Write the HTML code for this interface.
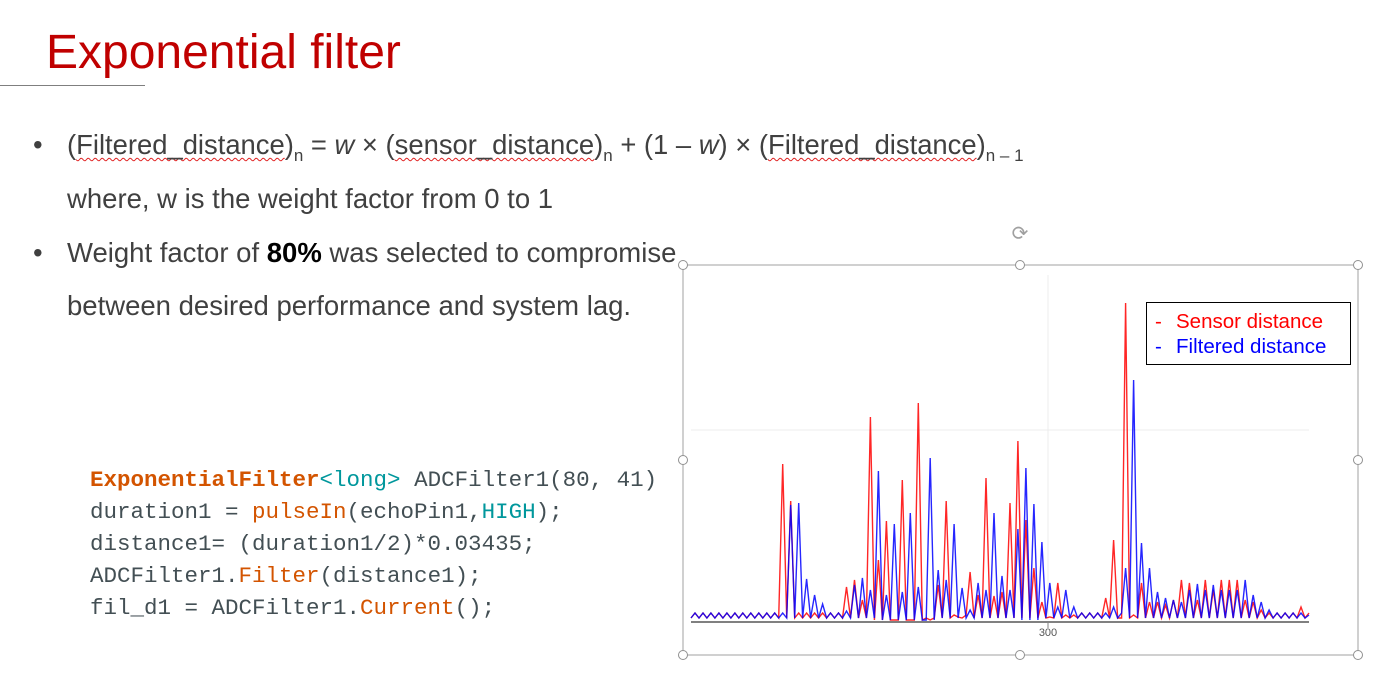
<!DOCTYPE html>
<html><head><meta charset="utf-8">
<style>
body{margin:0;width:1387px;height:699px;background:#fff;position:relative;overflow:hidden;font-family:"Liberation Sans",sans-serif}
.abs{position:absolute;white-space:nowrap}
.t{color:#404040;font-size:27.5px}
.w{text-decoration:underline wavy #e02020;text-decoration-thickness:1px;text-underline-offset:3px}
sub{font-size:17px;vertical-align:-7px}
.code{font-family:"Liberation Mono",monospace;font-size:22.5px;color:#434f54}
.o{color:#d35400}.tl{color:#00979c}
</style></head><body>
<div class="abs" style="left:46px;top:25px;font-size:48px;color:#c00000">Exponential filter</div>
<div class="abs" style="left:0;top:85px;width:145px;height:1px;background:#7f7f7f"></div>
<div class="abs t" style="left:33px;top:129px">•</div>
<div class="abs t" style="left:67px;top:129px;font-size:27.4px">(<span class="w">Filtered_distance</span>)<sub>n</sub> = <i>w</i> × (<span class="w">sensor_distance</span>)<sub>n</sub> + (1 – <i>w</i>) × (<span class="w">Filtered_distance</span>)<sub>n – 1</sub></div>
<div class="abs t" style="left:67px;top:183px">where, w is the weight factor from 0 to 1</div>
<div class="abs t" style="left:33px;top:237px">•</div>
<div class="abs t" style="left:67px;top:237px">Weight factor of <b style="color:#000">80%</b> was selected to compromise</div>
<div class="abs t" style="left:67px;top:290px">between desired performance and system lag.</div>
<div class="abs code" style="left:90px;top:464px;line-height:32px">
<div><span class="o"><b>ExponentialFilter</b></span><span class="tl">&lt;long&gt;</span> ADCFilter1(80, 41)</div>
<div>duration1 = <span class="o">pulseIn</span>(echoPin1,<span class="tl">HIGH</span>);</div>
<div>distance1= (duration1/2)*0.03435;</div>
<div>ADCFilter1.<span class="o">Filter</span>(distance1);</div>
<div>fil_d1 = ADCFilter1.<span class="o">Current</span>();</div>
</div>
<svg class="abs" id="chart" style="left:0;top:0" width="1387" height="699">
<g id="frame" stroke="#a0a0a0" fill="none"><rect x="683" y="265" width="675" height="390" stroke-width="1"/></g>
<text x="1020" y="240" font-size="20" fill="#a0a0a0" text-anchor="middle">⟳</text>
<line x1="1048" y1="275" x2="1048" y2="620" stroke="#ececec"/>
<line x1="691" y1="430" x2="1309" y2="430" stroke="#ececec"/>
<g id="series"></g>
<line x1="691" y1="622" x2="1309" y2="622" stroke="#808080" stroke-width="2"/>
<line x1="1048" y1="622" x2="1048" y2="628" stroke="#808080"/>
<text x="1048" y="636" font-size="11" fill="#555" text-anchor="middle">300</text>
<g>
<rect x="1146.5" y="302.5" width="204" height="62" fill="#fff" stroke="#000"/>
<text x="1155" y="328" font-size="20.5" fill="#ff0000">-</text>
<text x="1176" y="328" font-size="20.5" fill="#ff0000">Sensor distance</text>
<text x="1155" y="353" font-size="20.5" fill="#0000ff">-</text>
<text x="1176" y="353" font-size="20.5" fill="#0000ff">Filtered distance</text>
</g>
<g id="handles" fill="#fff" stroke="#909090"></g>
</svg>
<script>
const sensor=[2,7,2,7,2,7,2,7,2,7,2,7,2,7,2,7,2,7,2,7,2,7,2,156,2,119,2,7,2,7,2,7,2,7,2,7,2,7,2,33,2,40,2,20,2,203,0,60,0,99,0,0,0,140,0,0,0,217,0,2,0,2,35,2,119,2,5,3,2,5,48,2,25,2,142,2,24,2,28,2,117,2,179,2,100,2,52,2,18,2,3,2,37,2,5,2,5,2,7,2,7,2,7,2,22,2,80,2,2,317,2,5,2,37,2,18,2,18,2,15,2,20,2,40,2,37,2,20,2,40,2,30,2,40,2,40,2,40,2,20,2,18,2,10,2,7,2,7,2,7,2,7,2,13,2,7];
const filtered=[2,7,2,7,2,7,2,7,2,7,2,7,2,7,2,7,2,7,2,7,2,7,2,7,2,115,2,117,2,41,2,25,2,16,2,7,2,7,2,9,2,35,2,42,2,30,2,149,0,25,0,96,0,28,0,107,0,33,0,0,162,0,50,2,40,2,96,2,32,2,10,2,37,2,30,2,107,2,44,2,30,2,91,0,152,0,116,0,78,2,37,2,13,2,30,2,13,2,7,2,7,2,7,2,7,2,13,2,7,52,2,240,2,77,2,52,2,28,2,22,2,20,2,18,2,30,2,36,2,30,2,35,2,30,2,30,2,30,2,40,2,25,2,18,2,10,2,7,2,7,2,7,2,7,2,5];
const ns='http://www.w3.org/2000/svg';
const x=i=>691+i*(1309-691)/155;
const y=v=>620-v;
const g=document.getElementById('series');
function draw(arr,color,name){
  const p=document.createElementNS(ns,'polyline');
  p.setAttribute('points',arr.map((v,i)=>x(i).toFixed(1)+','+y(v).toFixed(1)).join(' '));
  p.setAttribute('fill','none');p.setAttribute('stroke',color);p.setAttribute('stroke-width','1.4');
  p.setAttribute('stroke-opacity','0.85');
  
  
  g.appendChild(p);
}
draw(sensor,'#ff0000','sensor-distance-line');
draw(filtered,'#0000ff','filtered-distance-line');
const hs=document.getElementById('handles');
[[683,265],[1020,265],[1358,265],[683,460],[1358,460],[683,655],[1020,655],[1358,655]].forEach(c=>{
  const ci=document.createElementNS(ns,'circle');
  ci.setAttribute('cx',c[0]);ci.setAttribute('cy',c[1]);ci.setAttribute('r','4.5');
  
  
  hs.appendChild(ci);
});
</script>
</body></html>
